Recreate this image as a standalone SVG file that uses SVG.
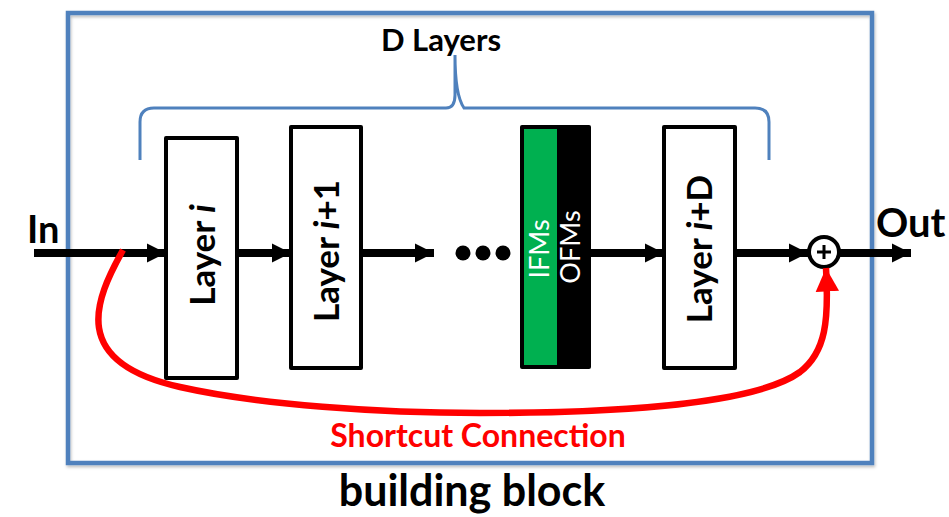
<svg xmlns="http://www.w3.org/2000/svg" width="949" height="517" viewBox="0 0 949 517">
  <defs>
    <marker id="arrowBlack" viewBox="0 0 10 10" refX="10" refY="5" markerWidth="2.4" markerHeight="3" markerUnits="strokeWidth" orient="auto">
      <path d="M0,0 L10,5 L0,10 Z" fill="#000"/>
    </marker>
    <marker id="arrowRed" viewBox="0 0 10 10" refX="10" refY="5" markerWidth="3.6" markerHeight="4" markerUnits="strokeWidth" orient="auto">
      <path d="M0,0 L10,5 L0,10 Z" fill="#FF0000"/>
    </marker>
    <filter id="shadow" x="-5%" y="-5%" width="110%" height="110%">
      <feDropShadow dx="1" dy="2" stdDeviation="1.5" flood-color="#000" flood-opacity="0.25"/>
    </filter>
  </defs>
  <style>
    .box { fill: #fff; stroke: #000; stroke-width: 4; stroke-linejoin: round; }
    .flow { stroke: #000; stroke-width: 8; fill: none; marker-end: url(#arrowBlack); }
    .lbl { font-family: Lato, "Open Sans", "Liberation Sans", sans-serif; font-weight: bold; fill: #000; }
    .layer { font-size: 35px; text-anchor: middle; }
    .fm { font-family: Lato, "Open Sans", "Liberation Sans", sans-serif; font-size: 27px; fill: #fff; text-anchor: middle; }
  </style>

  <rect width="949" height="517" fill="#fff"/>

  <!-- building block frame -->
  <rect id="frame" x="68" y="13" width="804" height="450" fill="none" stroke="#4F81BD" stroke-width="4.5" filter="url(#shadow)"/>

  <!-- brace over the D layers -->
  <g id="brace">
    <path d="M140,160 L140,122 Q140,108 154,108 L446,108 Q455,108 455,95 L455,55 Q455,95 464,108 L755,108 Q769,108 769,122 L769,160" fill="none" stroke="#4F81BD" stroke-width="3"/>
    <text class="lbl" x="441" y="51" font-size="31" text-anchor="middle">D Layers</text>
  </g>

  <g id="in-label"><text class="lbl" x="27" y="243" font-size="38">In</text></g>
  <g id="out-label"><text class="lbl" x="876" y="237" font-size="40">Out</text></g>

  <g id="layer-i">
    <rect class="box" x="166" y="138" width="71" height="240"/>
    <text class="lbl layer" transform="translate(215,255) rotate(-90)">Layer <tspan font-style="italic">i</tspan></text>
  </g>

  <g id="layer-i1">
    <rect class="box" x="291" y="127" width="70" height="241"/>
    <text class="lbl layer" transform="translate(339,251) rotate(-90)">Layer <tspan font-style="italic">i</tspan>+1</text>
  </g>

  <g id="ellipsis">
    <circle cx="463" cy="253" r="7.5"/>
    <circle cx="483" cy="253" r="7.5"/>
    <circle cx="503" cy="253" r="7.5"/>
  </g>

  <g id="fmaps">
    <rect x="520" y="125" width="71" height="244" rx="2" fill="#000"/>
    <rect x="524" y="129" width="33" height="236" fill="#00B050"/>
    <text class="fm" transform="translate(549,249) rotate(-90)">IFMs</text>
    <text class="fm" transform="translate(580,247) rotate(-90)">OFMs</text>
  </g>

  <g id="layer-iD">
    <rect class="box" x="664" y="127" width="71" height="241"/>
    <text class="lbl layer" transform="translate(712,249) rotate(-90)">Layer <tspan font-style="italic">i</tspan>+D</text>
  </g>

  <g id="adder">
    <circle cx="824" cy="252" r="15" fill="#fff" stroke="#000" stroke-width="4"/>
    <path d="M817,252 H831 M824,245 V259" stroke="#000" stroke-width="3"/>
  </g>

  <g id="connectors">
    <line class="flow" x1="34" y1="253" x2="166" y2="253"/>
    <line class="flow" x1="237" y1="253" x2="291" y2="253"/>
    <line class="flow" x1="361" y1="253" x2="434" y2="253"/>
    <line class="flow" x1="591" y1="253" x2="664" y2="253"/>
    <line class="flow" x1="735" y1="253" x2="808" y2="253"/>
    <line class="flow" x1="840" y1="253" x2="911" y2="253"/>
    <path d="M123,250 C95,300 68,362 180,387 C260,405 380,413 480,413 C640,413 760,401 800,372 C826,352 829,320 826,268" fill="none" stroke="#FF0000" stroke-width="6.5" marker-end="url(#arrowRed)"/>
  </g>

  <g id="shortcut-label">
    <text x="478" y="447" font-family="Lato, 'Open Sans', 'Liberation Sans', sans-serif" font-weight="bold" font-size="32" fill="#FF0000" text-anchor="middle">Shortcut Connection</text>
  </g>

  <g id="caption">
    <text class="lbl" x="472" y="506" font-size="43" text-anchor="middle">building block</text>
  </g>
</svg>
